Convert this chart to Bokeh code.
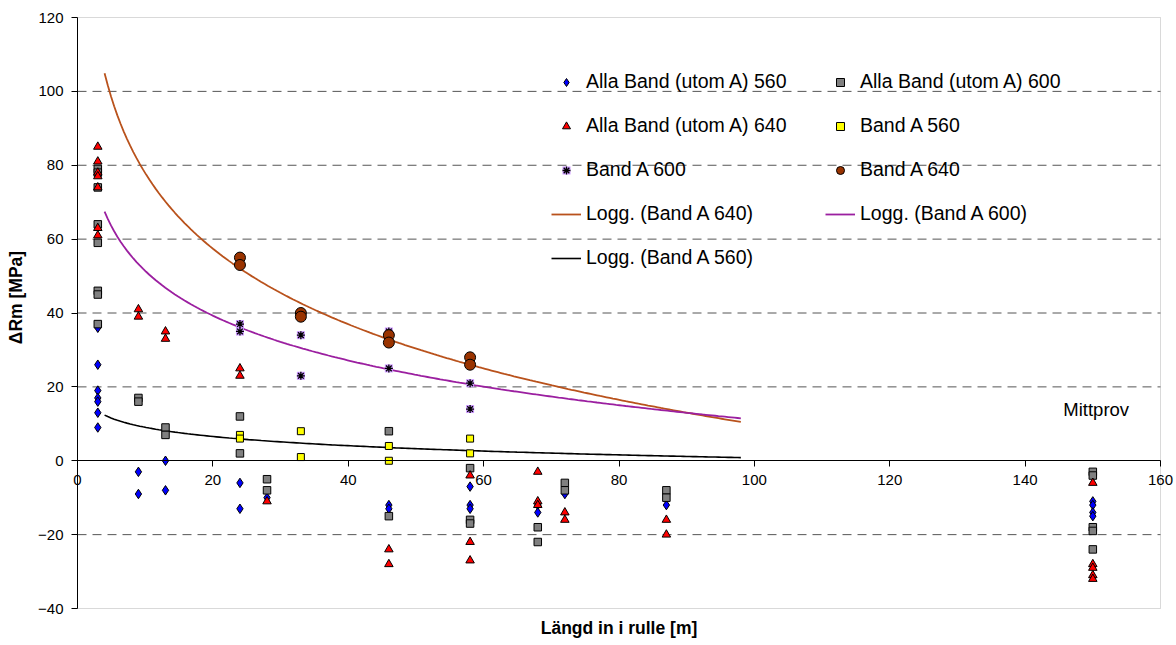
import numpy as np
from bokeh.plotting import figure
from bokeh.models import (Range1d, LinearAxis, FixedTicker, Legend, LegendItem,
                          Label, BoxAnnotation)
from bokeh.embed import file_html
from bokeh.resources import INLINE

FONT = "Liberation Sans"

# Tick values
x_ticks = [0, 20, 40, 60, 80, 100, 120, 140, 160]
y_ticks = [-40, -20, 0, 20, 40, 60, 80, 100, 120]
grid_ticks = [-20, 20, 40, 60, 80, 100]

# Alla Band (utom A) 560
alla560_x = [3, 3, 3, 3, 3, 3, 3, 9, 9, 13, 13, 24, 24, 28, 46, 46, 58, 58, 58,
             68, 68, 72, 87, 150, 150, 150, 150]
alla560_y = [36, 26, 19, 17, 16, 13, 9, -3, -9, 0, -8, -6, -13, -10, -12, -13, -7, -12, -13,
             -12, -14, -9, -12, -11, -12, -14, -15]

# Alla Band (utom A) 600
alla600_x = [3, 3, 3, 3, 3, 3, 3, 3, 9, 9, 13, 13, 24, 24, 28, 28, 46, 46, 58, 58, 58,
             68, 68, 72, 72, 87, 87, 150, 150, 150, 150, 150]
alla600_y = [79, 78, 74, 64, 59, 46, 45, 37, 17, 16, 9, 7, 12, 2, -5, -8, 8, -15, -2, -16, -17,
             -18, -22, -6, -8, -8, -10, -3, -4, -18, -19, -24]

# Alla Band (utom A) 640
alla640_x = [3, 3, 3, 3, 3, 3, 3, 9, 9, 13, 13, 24, 24, 28, 46, 46, 58, 58, 58,
             68, 68, 68, 72, 72, 87, 87, 150, 150, 150, 150, 150]
alla640_y = [85, 81, 78, 77, 74, 63, 61, 41, 39, 35, 33, 25, 23, -11, -24, -28, -4, -22, -27,
             -3, -11, -12, -14, -16, -16, -20, -6, -28, -29, -31, -32]

# Band A
bandA_x = [24, 24, 33, 33, 46, 46, 58, 58]
bandA560_y = [7, 6, 8, 1, 4, 0, 6, 2]
bandA600_y = [37, 35, 34, 23, 35, 25, 21, 14]
bandA640_y = [55, 53, 40, 39, 34, 32, 28, 26]

# Logarithmic trend lines, extended backward/forward over this span
trend_start, trend_end = 4, 98

C_BLUE = "#0000FF"
C_GRAY = "#808080"
C_RED = "#FF0000"
C_YELLOW = "#FFFF00"
C_LILAC = "#CC99FF"
C_BROWN = "#993300"
C_TREND640 = "#B9521C"
C_TREND600 = "#9B1FA0"
C_TREND560 = "#000000"

# Canvas and plot-area geometry (pixels); the data frame covers the whole
# canvas so that axis labels sitting at the plot-area edges are never cut.
W, H = 1176, 645
PA_LEFT, PA_RIGHT, PA_TOP, PA_BOTTOM = 77, 1160, 17, 608
x_lo, x_hi = x_ticks[0], x_ticks[-1]
y_lo, y_hi = y_ticks[0], y_ticks[-1]
kx = (PA_RIGHT - PA_LEFT) / (x_hi - x_lo)
ky = (PA_BOTTOM - PA_TOP) / (y_hi - y_lo)
x_range = Range1d(x_lo - PA_LEFT / kx, x_hi + (W - PA_RIGHT) / kx)
y_range = Range1d(y_lo - (H - PA_BOTTOM) / ky, y_hi + PA_TOP / ky)

p = figure(width=W, height=H, x_range=x_range, y_range=y_range,
           x_axis_location=None, y_axis_location=None,
           output_backend="svg", toolbar_location=None,
           min_border=0, min_border_left=0, min_border_right=0,
           min_border_top=0, min_border_bottom=0,
           background_fill_color="white", border_fill_color="white")
p.outline_line_color = None
p.xgrid.visible = False
p.ygrid.visible = False

# plot-area border
p.add_layout(BoxAnnotation(left=x_lo, right=x_hi, bottom=y_lo, top=y_hi,
                           fill_alpha=0, line_color="#808080", line_width=1,
                           level="underlay"))

# dashed horizontal gridlines
p.segment(x0=x_lo, x1=x_hi, y0=grid_ticks, y1=grid_ticks,
          line_color="#555555", line_dash="9 6", line_width=1)

# y axis along x = 0
yax = LinearAxis(ticker=FixedTicker(ticks=y_ticks), fixed_location=x_lo,
                 bounds=(y_lo, y_hi))
yax.major_label_text_font = FONT
yax.major_label_text_font_size = "15px"
yax.major_label_text_color = "black"
yax.major_label_standoff = 8
yax.major_tick_out = 6
yax.major_tick_in = 0
yax.minor_tick_line_color = None
yax.axis_line_color = "black"
yax.major_tick_line_color = "black"
p.add_layout(yax, "left")

# x axis crossing at y = 0
xax = LinearAxis(ticker=FixedTicker(ticks=x_ticks), fixed_location=0,
                 bounds=(x_lo, x_hi))
xax.major_label_text_font = FONT
xax.major_label_text_font_size = "15px"
xax.major_label_text_color = "black"
xax.major_label_standoff = 8
xax.major_tick_out = 6
xax.major_tick_in = 0
xax.minor_tick_line_color = None
xax.axis_line_color = "black"
xax.major_tick_line_color = "black"
p.add_layout(xax, "below")

# axis titles
p.add_layout(Label(x=(PA_LEFT + PA_RIGHT) / 2, y=H - 627, x_units="screen", y_units="screen",
                   text="Längd in i rulle [m]", text_align="center", text_baseline="middle",
                   text_font=FONT, text_font_style="bold", text_font_size="17.5px",
                   text_color="black"))
p.add_layout(Label(x=15, y=H - 297, x_units="screen", y_units="screen", angle=np.pi / 2,
                   text="ΔRm [MPa]", text_align="center", text_baseline="middle",
                   text_font=FONT, text_font_style="bold", text_font_size="17.5px",
                   text_color="black"))

# trend lines: y = a*ln(x) + b fitted to each Band A series
xs_fit = np.linspace(trend_start, trend_end, 200)

def log_fit(xv, yv):
    a, b = np.polyfit(np.log(np.asarray(xv, float)), np.asarray(yv, float), 1)
    return a * np.log(xs_fit) + b

r_t640 = p.line(xs_fit, log_fit(bandA_x, bandA640_y), line_color=C_TREND640, line_width=1.8)
r_t600 = p.line(xs_fit, log_fit(bandA_x, bandA600_y), line_color=C_TREND600, line_width=1.8)
r_t560 = p.line(xs_fit, log_fit(bandA_x, bandA560_y), line_color=C_TREND560, line_width=1.6)

# scatter series
r_a560 = p.scatter(alla560_x, alla560_y, marker="diamond", size=9.5,
                   fill_color=C_BLUE, line_color="black", line_width=1)
r_a600 = p.scatter(alla600_x, alla600_y, marker="square", size=7.5,
                   fill_color=C_GRAY, line_color="black", line_width=1)
r_a640 = p.scatter(alla640_x, alla640_y, marker="triangle", size=8.5,
                   fill_color=C_RED, line_color="black", line_width=1)
r_b560 = p.scatter(bandA_x, bandA560_y, marker="square", size=7,
                   fill_color=C_YELLOW, line_color="black", line_width=1)
r_b600_bg = p.scatter(bandA_x, bandA600_y, marker="square", size=8,
                      fill_color=C_LILAC, line_color=None)
r_b600 = p.scatter(bandA_x, bandA600_y, marker="asterisk", size=8,
                   line_color="black", line_width=1.3)
r_b640 = p.scatter(bandA_x, bandA640_y, marker="circle", size=11,
                   fill_color=C_BROWN, line_color="black", line_width=1)

p.add_layout(Label(x=150.5, y=14, text="Mittprov", text_align="center",
                   text_baseline="middle", text_font=FONT, text_font_size="18.5px",
                   text_color="black"))

def make_legend(items, loc):
    lg = Legend(items=items, location=loc, orientation="vertical",
                glyph_width=30, glyph_height=20, label_height=20,
                label_standoff=5, spacing=21, padding=0, margin=0,
                border_line_color=None, background_fill_alpha=0,
                label_text_font=FONT, label_text_font_size="19.5px",
                label_text_color="black")
    return lg

leg1 = make_legend([
    LegendItem(label="Alla Band (utom A) 560", renderers=[r_a560]),
    LegendItem(label="Alla Band (utom A) 640", renderers=[r_a640]),
    LegendItem(label="Band A 600", renderers=[r_b600_bg, r_b600]),
    LegendItem(label="Logg. (Band A 640)", renderers=[r_t640]),
    LegendItem(label="Logg. (Band A 560)", renderers=[r_t560]),
], (551, 376))
leg2 = make_legend([
    LegendItem(label="Alla Band (utom A) 600", renderers=[r_a600]),
    LegendItem(label="Band A 560", renderers=[r_b560]),
    LegendItem(label="Band A 640", renderers=[r_b640]),
    LegendItem(label="Logg. (Band A 600)", renderers=[r_t600]),
], (825, 420))
p.add_layout(leg1, "center")
p.add_layout(leg2, "center")

open("out.html", "w").write(file_html(p, INLINE))
